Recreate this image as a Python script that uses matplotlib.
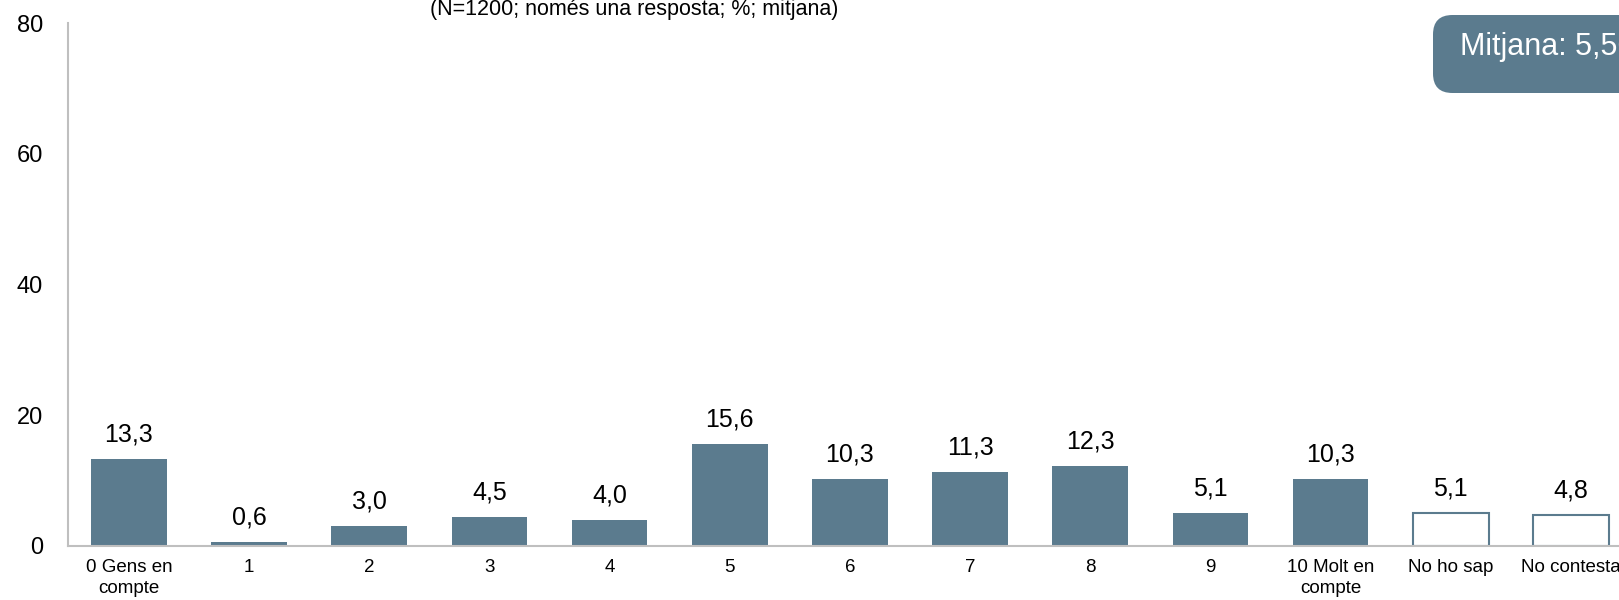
import matplotlib.pyplot as plt
from matplotlib.patches import FancyBboxPatch

plt.rcParams['font.family'] = ['Liberation Sans', 'DejaVu Sans']

categories = ['0 Gens en\ncompte', '1', '2', '3', '4', '5', '6', '7', '8', '9',
              '10 Molt en\ncompte', 'No ho sap', 'No contesta']
values = [13.3, 0.6, 3.0, 4.5, 4.0, 15.6, 10.3, 11.3, 12.3, 5.1, 10.3, 5.1, 4.8]
hollow = [False] * 11 + [True, True]
subtitle = '(N=1200; només una resposta; %; mitjana)'
mean_label = 'Mitjana: 5,56'

bar_color = '#5b7b8e'
W, H = 1619, 600

fig = plt.figure(figsize=(W / 100, H / 100), dpi=100)
ax = fig.add_axes([68 / W, 54 / H, 1 - 68 / W, (546 - 23) / H])

x = range(len(categories))
for i, v in enumerate(values):
    if hollow[i]:
        ax.bar(i, v, width=0.63, color='white', edgecolor=bar_color, linewidth=1.5)
    else:
        ax.bar(i, v, width=0.63, color=bar_color)
    ax.annotate(f'{v:.1f}'.replace('.', ','), (i, v), xytext=(0, 9),
                textcoords='offset points', ha='center', va='bottom', fontsize=18)

ax.set_xlim(-0.507, 12.4)
ax.set_ylim(0, 80)
ax.set_yticks([0, 20, 40, 60, 80])
ax.set_xticks(list(x))
ax.set_xticklabels(categories, fontsize=13.5, linespacing=1.35)
ax.tick_params(axis='x', length=0, pad=9)
ax.tick_params(axis='y', length=0, pad=18, labelsize=17)

for s in ['top', 'right']:
    ax.spines[s].set_visible(False)
for s in ['left', 'bottom']:
    ax.spines[s].set_color('#bfbfbf')
    ax.spines[s].set_linewidth(1.5)

fig.text(634 / W, 1 - 9 / H, subtitle, ha='center', va='center', fontsize=15.5)

box = FancyBboxPatch((1433 / W, 1 - 93 / H), 300 / W, 78 / H,
                     boxstyle='round,pad=0,rounding_size=0.012',
                     transform=fig.transFigure, facecolor=bar_color,
                     edgecolor='none', mutation_aspect=W / H)
fig.patches.append(box)
fig.text(1460 / W, 1 - 47 / H, mean_label, ha='left', va='center',
         fontsize=22, color='white')

fig.savefig('out.png', dpi=100)
